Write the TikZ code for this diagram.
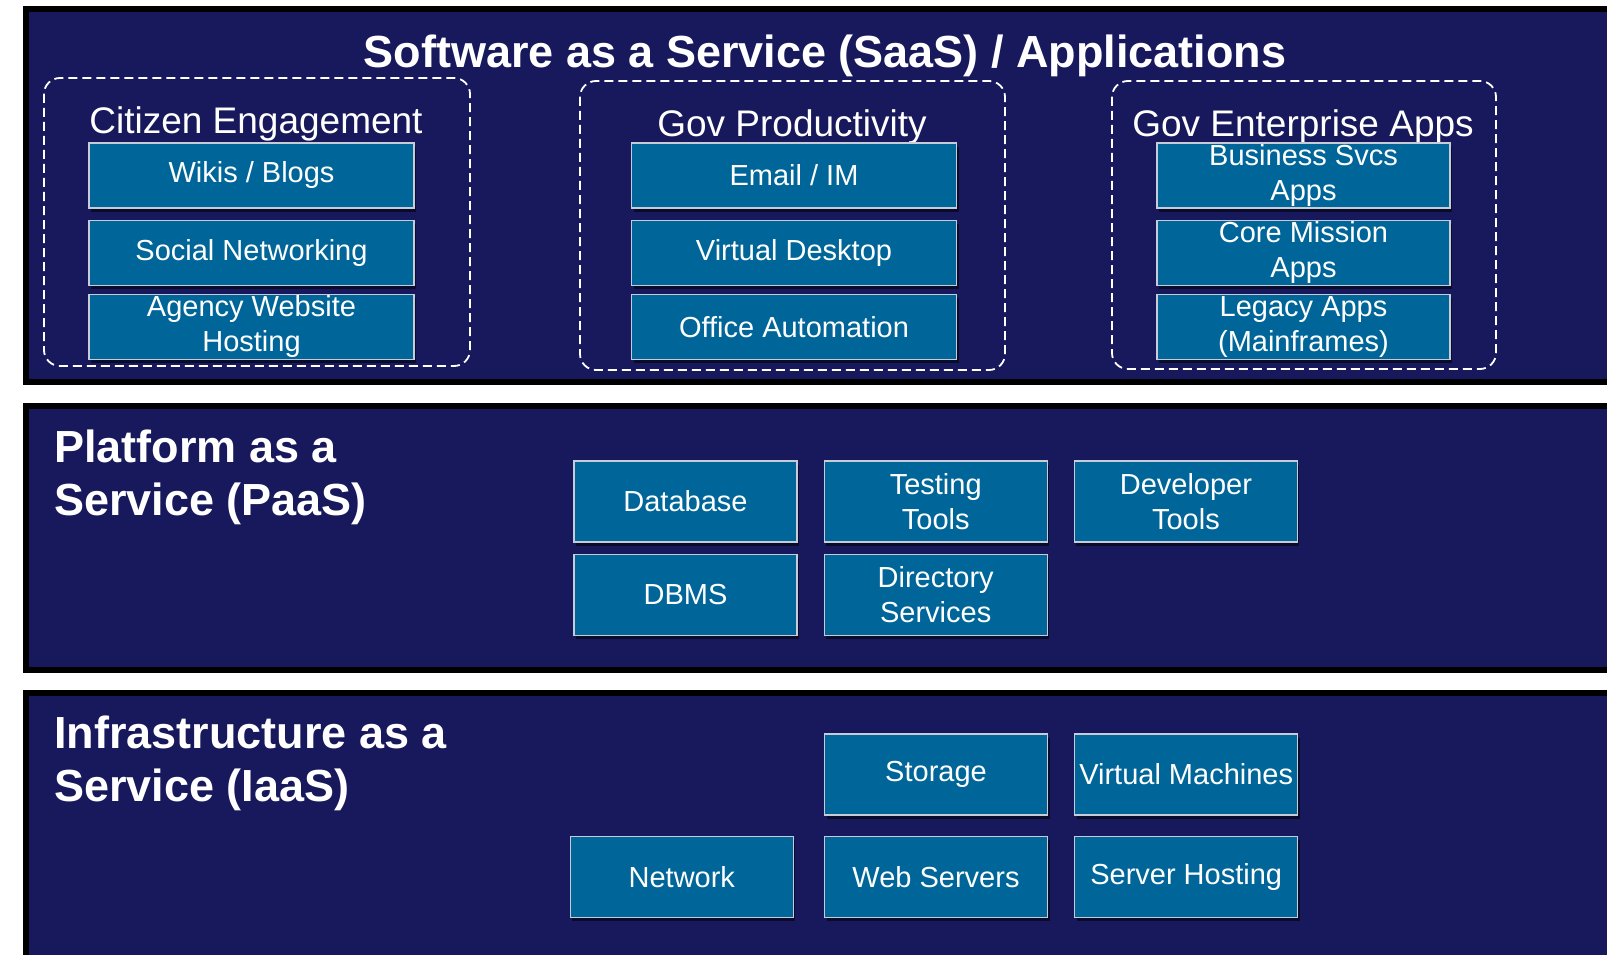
\documentclass[tikz,border=0pt]{standalone}
\usepackage{fontspec}
\setmainfont{Liberation Sans}
\usetikzlibrary{positioning,shadows}
\definecolor{Navy}{HTML}{18185C}
\definecolor{Cobalt}{HTML}{006699}
\definecolor{Rim}{HTML}{C8CCD8}
\tikzset{
 layer/.style={fill=Navy,draw=black,line width=6pt},
 group/.style={draw=white,line width=1.8pt,dash pattern=on 9pt off 5pt,rounded corners=16pt},
 svc/.style={draw=Rim,line width=1.2pt,fill=Cobalt,text=white,align=center,inner sep=0pt,
   font=\fontsize{29}{35}\selectfont,
   drop shadow={shadow xshift=2pt,shadow yshift=-4pt,fill=black,opacity=.55}},
 saas/.style={svc,minimum width=325pt,minimum height=65pt},
 paas/.style={svc,minimum width=223pt,minimum height=81pt},
 gtitle/.style={text=white,font=\fontsize{37}{44}\selectfont,inner sep=0pt,anchor=base},
 ltitle/.style={text=white,font=\bfseries\fontsize{45}{53}\selectfont,align=left,inner sep=0pt,anchor=north west}
}
\begin{document}
\begin{tikzpicture}[x=1pt,y=-1pt,node distance=11pt and 26pt]
\useasboundingbox (0,0) rectangle (1607,955);
\clip (0,0) rectangle (1607,955);
% three service layers
\draw[layer] (26,9) rectangle (1625,382);
\draw[layer] (26,406) rectangle (1625,670);
\draw[layer] (26,693) rectangle (1625,975);
\draw[group] (44,78) rectangle (470,366);
\draw[group] (580,81) rectangle (1005,370);
\draw[group] (1112,81) rectangle (1496,369);
\node[text=white,font=\bfseries\fontsize{45}{53}\selectfont,anchor=base,inner sep=0pt] (saas) at (825,68) {Software as a Service (SaaS) / Applications};
\node[gtitle] (ce) at (256,134) {Citizen Engagement};
\node[gtitle] (gp) at (792,137) {Gov Productivity};
\node[gtitle] (ge) at (1303,137) {Gov Enterprise Apps};
% SaaS
\node[saas] (wiki) at (251.5,175.5) {Wikis / Blogs};
\node[saas,below=of wiki] (social) {Social Networking};
\node[saas,below=8pt of social] (agency) {Agency Website\\Hosting};
\node[saas] (email) at (794,175.5) {Email / IM};
\node[saas,below=of email] (desk) {Virtual Desktop};
\node[saas,below=8pt of desk] (office) {Office Automation};
\node[saas,minimum width=293pt] (biz) at (1303.5,175.5) {Business Svcs\\Apps};
\node[saas,minimum width=293pt,below=of biz] (core) {Core Mission\\Apps};
\node[saas,minimum width=293pt,below=8pt of core] (legacy) {Legacy Apps\\(Mainframes)};
% PaaS
\node[ltitle] (pt) at (54,430) {Platform as a\\Service (PaaS)};
\node[paas] (db) at (685.5,501.5) {Database};
\node[paas,right=of db] (test) {Testing\\Tools};
\node[paas,right=of test] (dev) {Developer\\Tools};
\node[paas,below=of db] (dbms) {DBMS};
\node[paas,below=of test] (dir) {Directory\\Services};
% IaaS
\node[ltitle] (it) at (54,716) {Infrastructure as a\\Service (IaaS)};
\node[paas] (store) at (936,774.5) {Storage};
\node[paas,right=of store] (vm) {Virtual Machines};
\node[paas,below=20pt of store] (web) {Web Servers};
\node[paas,below=20pt of vm] (host) {Server Hosting};
\node[paas,left=30pt of web] (net) {Network};
\end{tikzpicture}
\end{document}
